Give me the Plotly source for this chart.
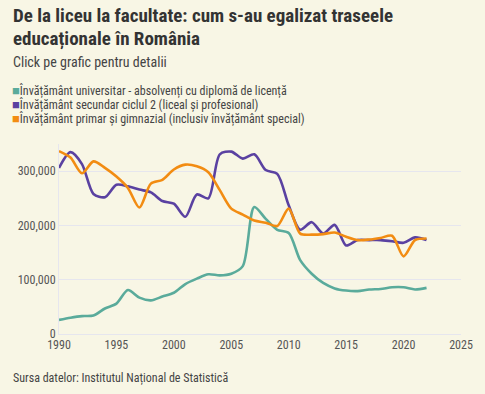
import plotly.graph_objects as go

years = list(range(1990, 2023))

universitar = [26000, 30000, 33000, 34000, 47000, 56000, 81000, 67000, 62000, 69000,
               76000, 92000, 102000, 110000, 108000, 111000, 125000, 234000, 212000, 192000,
               186000, 136000, 111000, 94000, 84000, 80000, 79000, 82000, 83000, 86000,
               86000, 82000, 85000]

secundar = [306000, 335000, 313000, 258000, 252000, 275000, 272000, 266000, 261000, 245000,
            240000, 216000, 257000, 250000, 331000, 336000, 323000, 331000, 302000, 295000,
            237000, 192000, 206000, 185000, 201000, 163000, 173000, 173000, 173000, 171000,
            168000, 178000, 173000]

primar = [337000, 325000, 296000, 318000, 306000, 290000, 269000, 233000, 277000, 284000,
          303000, 312000, 309000, 298000, 265000, 231000, 220000, 209000, 205000, 199000,
          231000, 185000, 183000, 184000, 187000, 179000, 173000, 174000, 177000, 181000,
          143000, 173000, 176000]

series_names = [
    "Învățământ universitar - absolvenți cu diplomă de licență",
    "Învățământ secundar ciclul 2 (liceal și profesional)",
    "Învățământ primar și gimnazial (inclusiv învățământ special)",
]
series_values = [universitar, secundar, primar]
colors = ["#5aab9b", "#5a41a1", "#f28c12"]

title_lines = ["De la liceu la facultate: cum s-au egalizat traseele", "educaționale în România"]
subtitle = "Click pe grafic pentru detalii"
source = "Sursa datelor: Institutul Național de Statistică"

x_ticks = [1990, 1995, 2000, 2005, 2010, 2015, 2020, 2025]
y_ticks = [0, 100000, 200000, 300000]

FONT = "Roboto Condensed, Liberation Sans Narrow, Roboto, sans-serif"
BG = "#f8f6e5"
GRID = "#e6e6ee"

W, H = 485, 394
ML, MR, MT, MB = 59, 24, 144, 60
PW = W - ML - MR
PH = H - MT - MB

def px_x(px):
    return (px - ML) / PW

def px_y(py):
    return (H - MB - py) / PH

fig = go.Figure()
for name, vals, col in zip(series_names, series_values, colors):
    fig.add_trace(go.Scatter(
        x=years, y=vals, name=name, mode="lines",
        line=dict(color=col, width=2.6, shape="spline", smoothing=0.8),
        showlegend=False,
        hovertemplate="%{x}: %{y:,}<extra>" + name + "</extra>",
    ))

anns = []
for i, line in enumerate(title_lines):
    anns.append(dict(text=f"<b>{line}</b>",
                     x=px_x(11), y=px_y(2 + 23 * i), xref="paper", yref="paper",
                     xanchor="left", yanchor="top", showarrow=False, align="left",
                     font=dict(size=19, color="#333333", family=FONT)))
anns.append(dict(text=subtitle,
                 x=px_x(11), y=px_y(52), xref="paper", yref="paper", xanchor="left", yanchor="top",
                 showarrow=False, align="left", font=dict(size=14, color="#444444", family=FONT)))
for i, (name, col) in enumerate(zip(series_names, colors)):
    anns.append(dict(text=f"<span style='color:{col};font-size:13px'>■</span>{name}",
                     x=px_x(10), y=px_y(81 + 14 * i), xref="paper", yref="paper",
                     xanchor="left", yanchor="top", showarrow=False, align="left",
                     font=dict(size=12, color="#444444", family=FONT)))
anns.append(dict(text=source,
                 x=px_x(11), y=px_y(369), xref="paper", yref="paper", xanchor="left", yanchor="top",
                 showarrow=False, align="left", font=dict(size=12, color="#444444", family=FONT)))

fig.update_layout(
    width=W, height=H,
    paper_bgcolor=BG, plot_bgcolor=BG,
    font=dict(family=FONT, color="#555555", size=12),
    margin=dict(l=ML, r=MR, t=MT, b=MB),
    showlegend=False,
    annotations=anns,
)

fig.update_xaxes(range=[1990, 2025], tickvals=x_ticks, showgrid=False, showline=True,
                 linecolor=GRID, linewidth=1, zeroline=False, ticks="", tickfont=dict(size=12))
fig.update_yaxes(range=[0, 350000], tickvals=y_ticks, tickformat=",", showgrid=True,
                 gridcolor=GRID, gridwidth=1, showline=True, linecolor=GRID, linewidth=1,
                 zeroline=False, ticks="", tickfont=dict(size=12))

fig.write_html("out.html", config={"displayModeBar": False},
               post_script="document.body.style.margin='0';document.body.style.background='" + BG + "';")
